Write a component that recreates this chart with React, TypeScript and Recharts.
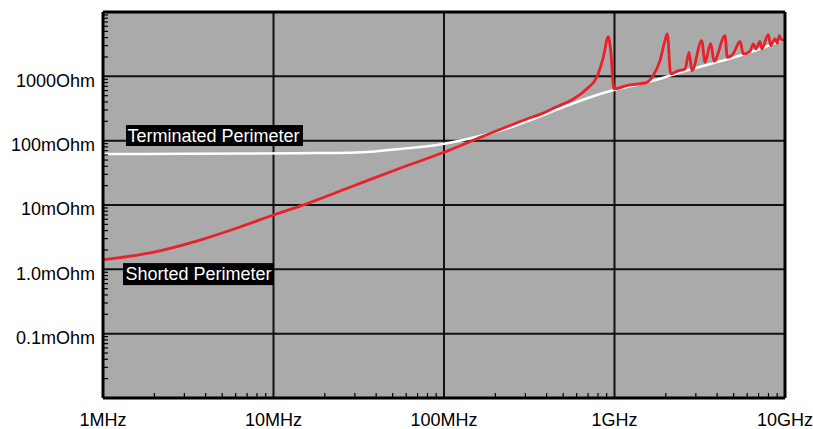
import React from 'react';
import { LineChart, Line, XAxis, YAxis, CartesianGrid, ReferenceDot, ReferenceLine } from 'recharts';

const FONT = '"Liberation Sans", Arial, Helvetica, sans-serif';

// Impedance sweep: frequency in MHz, impedance in mOhm
const shortedFreq = [
  1, 1.89, 3.71, 6.36, 10, 14.3, 28.1, 55.2, 100, 156,
  240, 333, 366, 450, 527, 571, 687, 786, 860, 919,
  950, 993, 1179, 1545, 1682, 1849, 1977, 2040, 2136, 2317,
  2592, 2735, 2848, 3246, 3396, 3667, 3837, 4447, 4587, 4955,
  5449, 5694, 6233, 6518, 6761, 7130, 7300, 7982, 8244, 8736,
  9017, 9261, 9563, 10000,
];
const shortedZ = [
  1.41, 1.8, 2.85, 4.55, 6.99, 9.6, 18.9, 37.3, 66, 107,
  169, 235, 256, 330, 395, 441, 637, 965, 1975, 4140,
  2512, 637, 717, 807, 1025, 1754, 3590, 4560, 1090, 1196,
  1303, 2361, 1227, 3590, 1652, 3258, 1711, 4296, 1975, 2228,
  3499, 2228, 2449, 3191, 2667, 3499, 2667, 4452, 3000, 3818,
  3258, 4296, 3681, 3818,
];

const terminatedFreq = [1, 3, 14.3, 28.1, 39.4, 55.2, 72.6, 98.5, 124, 156, 213, 333, 527, 822, 993, 1552, 2117, 2700, 4327, 5449, 8503, 10000];
const terminatedZ = [62, 62.5, 64, 65.1, 68, 74.3, 79.8, 88.9, 100, 115, 143, 217, 350, 532, 614, 807, 1025, 1250, 1754, 2099, 3191, 3855];

const freqDecades = [1, 10, 100, 1000, 10000];
const freqLabels = ['1MHz', '10MHz', '100MHz', '1GHz', '10GHz'];
const freqGrid = [10, 100, 1000];
const zDecades = [0.1, 1, 10, 100, 1000];
const zLabels = ['0.1mOhm', '1.0mOhm', '10mOhm', '100mOhm', '1000Ohm'];

const minorSteps = [2, 3, 4, 5, 6, 7, 8, 9];
const minorTicksFor = (decades: number[]) => decades.flatMap((d) => minorSteps.map((k) => d * k));

const freqMinor = minorTicksFor([1, 10, 100, 1000]);
const zMinor = minorTicksFor([0.01, 0.1, 1, 10, 100, 1000]);

const shortedData = shortedFreq.map((f, i) => ({ f, z: shortedZ[i] }));
const terminatedData = terminatedFreq.map((f, i) => ({ f, z: terminatedZ[i] }));

const X_TICK_MARGIN = 15;
const Y_TICK_MARGIN = 8;

const XTick = (props: any) => {
  const { x, y, payload } = props;
  const i = freqDecades.indexOf(payload.value);
  const axisY = y - X_TICK_MARGIN;
  if (i < 0) {
    return <line x1={x} x2={x} y1={axisY} y2={axisY - 5} stroke="#000" strokeWidth={1.2} />;
  }
  return (
    <text x={x} y={y} dy="0.71em" textAnchor="middle" fill="#000" fontSize={18} fontFamily={FONT}>
      {freqLabels[i]}
    </text>
  );
};

const YTick = (props: any) => {
  const { x, y, payload } = props;
  const i = zDecades.indexOf(payload.value);
  const axisX = x + Y_TICK_MARGIN;
  if (i < 0) {
    return <line x1={axisX} x2={axisX + 5} y1={y} y2={y} stroke="#000" strokeWidth={1.2} />;
  }
  return (
    <text x={x} y={y + 10.4} textAnchor="end" fill="#000" fontSize={18} fontFamily={FONT}>
      {zLabels[i]}
    </text>
  );
};

// The frame axes only carry the decade grid; their tick labels are empty
const NoTick = () => <g />;

const LabelBox = ({ cx, cy, text, width, height, textDx, textDy }: any) => (
  <g>
    <rect x={cx} y={cy} width={width} height={height} fill="#000" />
    <text x={cx + textDx} y={cy + textDy} fill="#fff" fontSize={18} fontFamily={FONT}>
      {text}
    </text>
  </g>
);

const frameLine = { stroke: '#000', strokeWidth: 3 };
const GRID = '#111';

export default function App() {
  return (
    <div style={{ position: 'absolute', left: 0, top: 0, width: 813, height: 429, background: '#fff' }}>
      <LineChart width={813} height={429} margin={{ top: 0, right: 0, bottom: 0, left: 0 }}>
        <CartesianGrid
          xAxisId="top"
          yAxisId="right"
          vertical={false}
          stroke={GRID}
          strokeWidth={2}
          fill="#aaaaaa"
          fillOpacity={1}
        />
        <XAxis
          xAxisId={0}
          dataKey="f"
          type="number"
          scale="log"
          domain={[1, 10000]}
          allowDataOverflow
          ticks={[...freqDecades, ...freqMinor]}
          interval={0}
          tick={(p: any) => <XTick {...p} />}
          tickLine={false}
          tickSize={0}
          tickMargin={X_TICK_MARGIN}
          axisLine={frameLine}
          height={31}
        />
        <XAxis
          xAxisId="top"
          orientation="top"
          type="number"
          scale="log"
          domain={[1, 10000]}
          allowDataOverflow
          ticks={freqDecades}
          interval={0}
          tick={NoTick}
          tickLine={false}
          axisLine={frameLine}
          height={12}
        />
        <YAxis
          yAxisId={0}
          type="number"
          scale="log"
          domain={[0.01, 10000]}
          allowDataOverflow
          ticks={[...zDecades, ...zMinor]}
          interval={0}
          tick={(p: any) => <YTick {...p} />}
          tickLine={false}
          tickSize={0}
          tickMargin={Y_TICK_MARGIN}
          axisLine={frameLine}
          width={103}
        />
        <YAxis
          yAxisId="right"
          orientation="right"
          type="number"
          scale="log"
          domain={[0.01, 10000]}
          allowDataOverflow
          ticks={zDecades}
          interval={0}
          tick={NoTick}
          tickLine={false}
          axisLine={frameLine}
          width={28}
        />
        {freqGrid.map((f) => (
          <ReferenceLine key={f} x={f} stroke={GRID} strokeWidth={2} />
        ))}
        <Line
          data={terminatedData}
          dataKey="z"
          type="monotoneX"
          stroke="#ffffff"
          strokeWidth={2.5}
          dot={false}
          isAnimationActive={false}
        />
        <Line
          data={shortedData}
          dataKey="z"
          type="monotoneX"
          stroke="#e8212a"
          strokeWidth={2.8}
          dot={false}
          isAnimationActive={false}
        />
        <ReferenceDot
          x={1.364}
          y={175}
          r={0}
          ifOverflow="visible"
          shape={(p: any) => (
            <LabelBox {...p} text="Terminated Perimeter" width={177} height={21} textDx={1.5} textDy={16.5} />
          )}
        />
        <ReferenceDot
          x={1.31}
          y={1.25}
          r={0}
          ifOverflow="visible"
          shape={(p: any) => (
            <LabelBox {...p} text="Shorted Perimeter" width={151} height={22} textDx={2.5} textDy={16.5} />
          )}
        />
      </LineChart>
    </div>
  );
}
